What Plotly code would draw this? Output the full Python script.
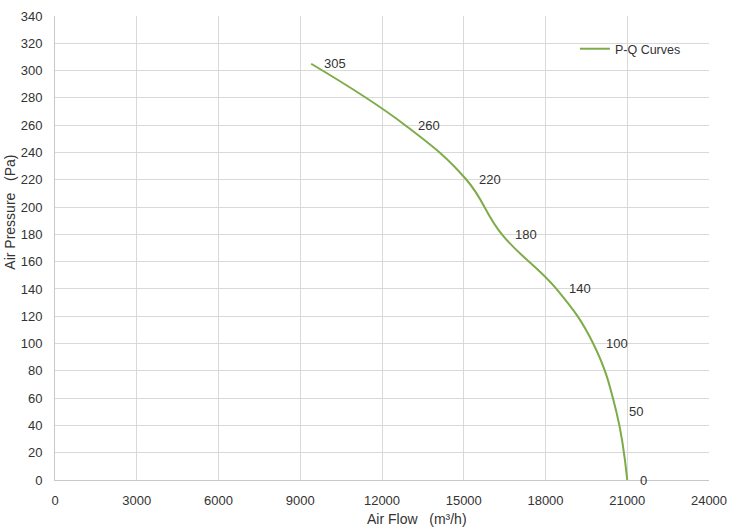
import plotly.graph_objects as go

# Data
air_flow = [9400, 12850, 15100, 16400, 18400, 19750, 20600, 21000]
air_pressure = [305, 260, 220, 180, 140, 100, 50, 0]
point_labels = ["305", "260", "220", "180", "140", "100", "50", "0"]

x_ticks = [0, 3000, 6000, 9000, 12000, 15000, 18000, 21000, 24000]
x_tick_text = [str(v) for v in x_ticks]
y_ticks = list(range(0, 341, 20))

LINE = "#7dac48"
TXT = "#333333"
GRID = "#d9d9d9"
FONT = "Liberation Sans, Arial, sans-serif"

fig = go.Figure()
fig.add_trace(go.Scatter(
    x=air_flow, y=air_pressure, mode="lines", name="P-Q Curves",
    line=dict(color=LINE, width=2, shape="spline", smoothing=1.2),
))

annotations = []
for xv, yv, t in zip(air_flow, air_pressure, point_labels):
    annotations.append(dict(x=xv, y=yv, xref="x", yref="y", text=t, showarrow=False,
                            xanchor="left", yanchor="middle", xshift=11,
                            font=dict(size=13, color=TXT, family=FONT)))
annotations.append(dict(x=0.553, y=-0.083, xref="paper", yref="paper", text="Air Flow   (m³/h)",
                        showarrow=False, xanchor="center", yanchor="middle",
                        font=dict(size=14, color=TXT, family=FONT)))
annotations.append(dict(x=-0.069, y=0.578, xref="paper", yref="paper", text="Air Pressure   (Pa)",
                        showarrow=False, xanchor="center", yanchor="middle", textangle=-90,
                        font=dict(size=14, color=TXT, family=FONT)))

fig.update_layout(
    width=735, height=531,
    margin=dict(l=55, r=26, t=16, b=51, autoexpand=False),
    paper_bgcolor="white", plot_bgcolor="white",
    font=dict(family=FONT, size=13, color=TXT),
    showlegend=True,
    legend=dict(x=0.795, y=0.961, xanchor="left", yanchor="top", bgcolor="rgba(0,0,0,0)",
                font=dict(size=12.5, color=TXT, family=FONT), itemwidth=30),
    shapes=[dict(type="rect", xref="paper", yref="paper", x0=0.78, x1=0.995, y0=0.867, y1=0.987,
                 fillcolor="white", line=dict(width=0), layer="between")],
    annotations=annotations,
    xaxis=dict(range=[0, 24000], tickvals=x_ticks, ticktext=x_tick_text, showgrid=True,
               gridcolor=GRID, gridwidth=1, automargin=False,
               showline=True, linecolor="#c8c8c8", linewidth=1, zeroline=False,
               ticks="", ticklabelstandoff=8, tickfont=dict(size=13, color=TXT)),
    yaxis=dict(range=[0, 340], tickvals=y_ticks, showgrid=True, gridcolor=GRID, gridwidth=1,
               showline=True, linecolor="#c8c8c8", linewidth=1, zeroline=False, automargin=False,
               ticks="", ticklabelstandoff=9, tickfont=dict(size=13, color=TXT)),
)

# remove the default 8px body margin so the figure fills the window exactly
fig.write_html("out.html", config={"displayModeBar": False},
               post_script="document.body.style.margin='0px';document.body.style.overflow='hidden';")
